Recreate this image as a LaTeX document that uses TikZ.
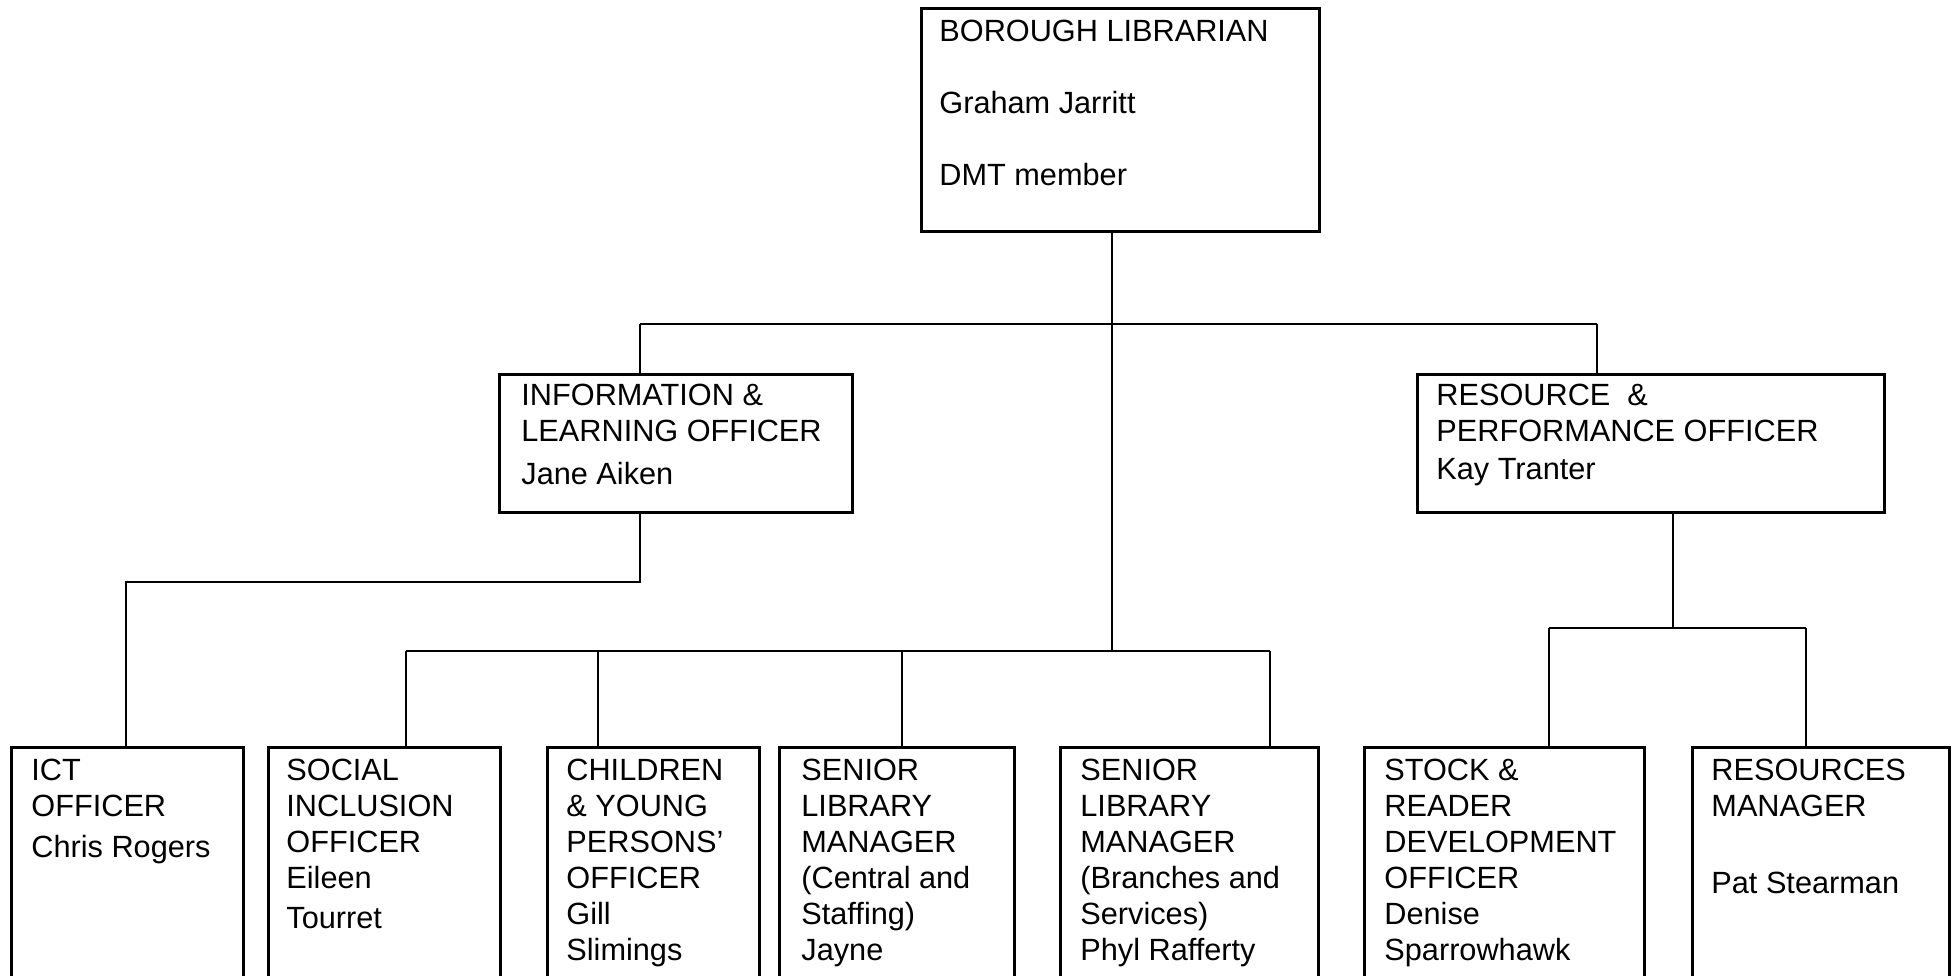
\documentclass[tikz,border=0pt]{standalone}
\usepackage{fontspec}
\setmainfont{Liberation Sans}
\begin{document}
\begin{tikzpicture}[x=0.5pt,y=-0.5pt,
  box/.style={draw, line width=1.3pt, rectangle, inner sep=0pt, anchor=north west, fill=white},
  lbl/.style={anchor=north west, inner sep=0pt, align=left, font=\fontsize{15.35pt}{18pt}\selectfont},
  conn/.style={line width=1.3pt}]
\useasboundingbox (0,0) rectangle (1952,975);
\clip (0,0) rectangle (1952,975);
\fill[white] (0,0) rectangle (1952,975);

% boxes
\node[box, minimum width=199pt, minimum height=111.5pt] (top) at (920,7) {};
\node[box, minimum width=176.5pt, minimum height=69pt] (info) at (498,373) {};
\node[box, minimum width=233.5pt, minimum height=69pt] (res) at (1416,373) {};
\node[box, minimum width=116pt, minimum height=130pt] (ict) at (10,746) {};
\node[box, minimum width=116pt, minimum height=130pt] (soc) at (267,746) {};
\node[box, minimum width=106pt, minimum height=130pt] (chi) at (546,746) {};
\node[box, minimum width=117.5pt, minimum height=130pt] (sen1) at (778,746) {};
\node[box, minimum width=129pt, minimum height=130pt] (sen2) at (1059,746) {};
\node[box, minimum width=140pt, minimum height=130pt] (stk) at (1363,746) {};
\node[box, minimum width=128.5pt, minimum height=130pt] (rmg) at (1691,746) {};

% texts (top of first line = baseline - cap height)
\node[lbl] (ttop) at (939,20) {BOROUGH LIBRARIAN\\[18pt]Graham Jarritt\\[18pt]DMT member};
\node[lbl] (tinfo) at (521,384) {INFORMATION \&\\LEARNING OFFICER\\[3.5pt]Jane Aiken};
\node[lbl] (tres) at (1436,384) {RESOURCE~~\&\\PERFORMANCE OFFICER\\[1pt]Kay Tranter};
\node[lbl] (tict) at (31,759) {ICT\\OFFICER\\[2.5pt]Chris Rogers};
\node[lbl] (tsoc) at (286,759) {SOCIAL\\INCLUSION\\OFFICER\\Eileen\\[2pt]Tourret};
\node[lbl] (tchi) at (566,759) {CHILDREN\\\& YOUNG\\PERSONS’\\OFFICER\\Gill\\Slimings};
\node[lbl] (tsen1) at (801,759) {SENIOR\\LIBRARY\\MANAGER\\(Central and\\Staffing)\\Jayne};
\node[lbl] (tsen2) at (1080,759) {SENIOR\\LIBRARY\\MANAGER\\(Branches and\\Services)\\Phyl Rafferty};
\node[lbl] (tstk) at (1384,759) {STOCK \&\\READER\\DEVELOPMENT\\OFFICER\\Denise\\Sparrowhawk};
\node[lbl] (trmg) at (1711,759) {RESOURCES\\MANAGER\\[20.5pt]Pat Stearman};

% junction coordinates
\coordinate (j1) at (1112,324);
\coordinate (j2) at (1112,651);
\coordinate (dinfo) at (640,324);
\coordinate (dres) at (1597,324);
\coordinate (k1) at (640,582);
\coordinate (k2) at (126,582);
\coordinate (b1) at (406,651);
\coordinate (b2) at (598,651);
\coordinate (b3) at (902,651);
\coordinate (b4) at (1270,651);
\coordinate (r0) at (1673,628);
\coordinate (r1) at (1549,628);
\coordinate (r2) at (1806,628);

% connectors
\draw[conn] (j1 |- top.south) -- (j2);
\draw[conn] (dinfo) -- (dres);
\draw[conn] (dinfo) -- (dinfo |- info.north);
\draw[conn] (dres) -- (dres |- res.north);
\draw[conn] (k1 |- info.south) -- (k1) -- (k2) -- (k2 |- ict.north);
\draw[conn] (b1) -- (b4);
\draw[conn] (b1) -- (b1 |- soc.north);
\draw[conn] (b2) -- (b2 |- chi.north);
\draw[conn] (b3) -- (b3 |- sen1.north);
\draw[conn] (b4) -- (b4 |- sen2.north);
\draw[conn] (r0 |- res.south) -- (r0);
\draw[conn] (r1) -- (r2);
\draw[conn] (r1) -- (r1 |- stk.north);
\draw[conn] (r2) -- (r2 |- rmg.north);
\end{tikzpicture}
\end{document}
